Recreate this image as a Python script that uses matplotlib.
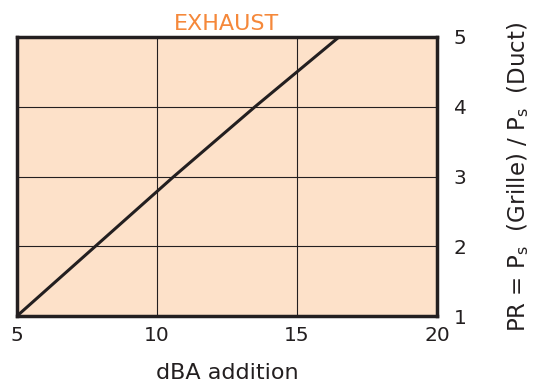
import matplotlib
matplotlib.use("Agg")
import matplotlib.pyplot as plt

dba = [5, 7.8, 10.6, 13.5, 16.5]
pr = [1, 2, 3, 4, 5]
x_ticks = [5, 10, 15, 20]
y_ticks = [1, 2, 3, 4, 5]

plt.rcParams['font.family'] = ['DejaVu Sans']

fig = plt.figure(figsize=(5.4, 3.82), dpi=100)
ax = fig.add_axes([17 / 540, 1 - 316 / 382, 420 / 540, 279 / 382])
ax.set_facecolor('#fde1c9')

ax.plot(dba, pr, color='#231f20', lw=2.2, solid_capstyle='butt', clip_on=False, zorder=3)

ax.set_xlim(5, 20)
ax.set_ylim(1, 5)
ax.set_xticks(x_ticks)
ax.set_yticks(y_ticks)
ax.grid(True, color='#231f20', lw=0.8)
ax.set_axisbelow(True)

ax.yaxis.tick_right()
ax.yaxis.set_label_position('right')
ax.tick_params(length=0, labelsize=14.5, colors='#231f20')
ax.tick_params(axis='y', pad=12)
ax.tick_params(axis='x', pad=7)
for s in ax.spines.values():
    s.set_linewidth(2.5)
    s.set_color('#231f20')

ax.set_xlabel('dBA addition', fontsize=16, color='#231f20', labelpad=13)
ax.set_ylabel(r'PR = P$_\mathregular{s}$  (Grille) / P$_\mathregular{s}$  (Duct)',
              fontsize=16.5, color='#231f20', labelpad=28)
ax.set_title('EXHAUST', fontsize=16, color='#f5883a', pad=5)

fig.savefig('out.png', dpi=100)
